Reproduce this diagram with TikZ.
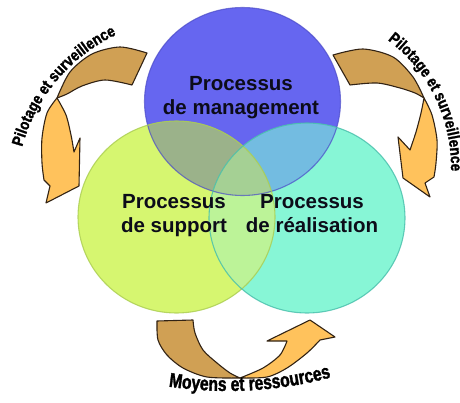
\documentclass[tikz,border=0pt]{standalone}
\usepackage{fontspec}
\setmainfont{Liberation Sans}
\newfontfamily\procfam{Liberation Sans}
\newfontfamily\pilotfam{Liberation Sans Bold}[FakeStretch=0.85, FakeBold=1.6]
\newfontfamily\moyfam{Liberation Sans Bold}[FakeStretch=0.78, FakeBold=1.6]
\usetikzlibrary{decorations.text}
\definecolor{cblue}{RGB}{102,102,240}
\definecolor{cgreen}{RGB}{214,246,112}
\definecolor{ccyan}{RGB}{135,246,214}
\definecolor{cbg}{RGB}{155,178,138}
\definecolor{cbc}{RGB}{115,188,225}
\definecolor{cgc}{RGB}{188,243,152}
\definecolor{call}{RGB}{165,208,148}
\definecolor{eblue}{RGB}{75,75,200}
\definecolor{egreen}{RGB}{170,205,80}
\definecolor{ecyan}{RGB}{70,190,170}
\definecolor{arrtan}{RGB}{208,160,84}
\definecolor{arror}{RGB}{255,194,92}
\definecolor{arredge}{RGB}{50,35,20}
\definecolor{txtcol}{RGB}{12,12,25}
\tikzset{
  tanpart/.style={fill=arrtan, draw=arredge, line width=1.1pt, line join=round},
  orpart/.style={fill=arror, draw=arredge, line width=1.1pt, line join=round},
  proc/.style={font=\procfam\bfseries\fontsize{20.5}{24}\selectfont, text=txtcol, inner sep=0pt, anchor=base},
  circedge/.style={line width=1.1pt}
}
\begin{document}
\begin{tikzpicture}[x=1pt,y=1pt]
\useasboundingbox (0,0) rectangle (460,-403);
\clip (0,0) rectangle (460,-403);
% circle centres
\coordinate (cm) at (242.5,-101.5);
\coordinate (cs) at (176.5,-217);
\coordinate (cr) at (307,-218);
\def\Cm{(cm) ellipse [x radius=98, y radius=94]}
\def\Cs{(cs) ellipse [x radius=98.5, y radius=96]}
\def\Cr{(cr) ellipse [x radius=98, y radius=95]}
\fill[cblue] \Cm;
\fill[cgreen] \Cs;
\fill[ccyan] \Cr;
\begin{scope}\clip \Cm; \fill[cbg] \Cs; \end{scope}
\begin{scope}\clip \Cm; \fill[cbc] \Cr; \end{scope}
\begin{scope}\clip \Cs; \fill[cgc] \Cr; \end{scope}
\begin{scope}\clip \Cm; \clip \Cs; \fill[call] \Cr; \end{scope}
\draw[circedge, draw=eblue, draw opacity=0.7] \Cm;
\draw[circedge, draw=egreen, draw opacity=0.8] \Cs;
\draw[circedge, draw=ecyan, draw opacity=0.8] \Cr;
% texts
\node[proc] (tm1) at (241,-91) {Processus};
\node[proc] (tm2) at (241,-115) {de management};
\node[proc] (ts1) at (174,-209) {Processus};
\node[proc] (ts2) at (174,-233) {de support};
\node[proc] (tr1) at (312,-209) {Processus};
\node[proc] (tr2) at (312,-233) {de réalisation};
% left arrow
\filldraw[tanpart] plot[smooth] coordinates {(147,-53) (120,-47) (92,-54) (70,-72) (57,-98)}
  -- plot[smooth] coordinates {(57,-98) (67,-94) (82,-86) (105,-80) (132,-85)} -- cycle;
\filldraw[orpart] plot[smooth] coordinates {(57,-98) (47,-113) (42,-138) (42,-163) (44,-180)}
  -- (50,-186) -- (46,-203) -- (79,-186) -- (80,-138) -- (74,-152)
  -- plot[smooth] coordinates {(74,-152) (71,-135) (66,-115) (57,-98)} -- cycle;
% right arrow
\filldraw[tanpart] plot[smooth] coordinates {(333,-55) (363,-49) (393,-57) (413,-77) (424,-98)}
  -- plot[smooth] coordinates {(424,-98) (415,-93) (400,-88) (377,-83) (350,-85)} -- cycle;
\filldraw[orpart] plot[smooth] coordinates {(424,-98) (432,-115) (437,-140) (436,-163) (434,-177)}
  -- (425,-183) -- (430,-197) -- (403,-178) -- (398,-137) -- (410,-150)
  -- plot[smooth] coordinates {(410,-150) (416,-132) (421,-113) (424,-98)} -- cycle;
% bottom arrow
\filldraw[tanpart] plot[smooth] coordinates {(157,-321) (158,-340) (167,-355) (183,-368) (207,-377) (240,-378)}
  -- plot[smooth] coordinates {(240,-378) (230,-373) (217,-363) (203,-350) (195,-333) (193,-320)} -- cycle;
\filldraw[orpart] plot[smooth] coordinates {(240,-378) (267,-377) (287,-368) (307,-353) (320,-340)}
  -- (335,-337) -- (310,-320) -- (267,-341) -- (287,-341)
  -- plot[smooth] coordinates {(287,-341) (280,-355) (263,-368) (240,-378)} -- cycle;
% curved labels
\path[decorate, decoration={text along path, text align=center,
   text={|\pilotfam\fontsize{16}{16}\selectfont|Pilotage et surveillence}}]
   ([shift={(166:175)}]191,-193) arc[start angle=166, end angle=114, radius=175];
\path[decorate, decoration={text along path, text align=left,
   text={|\pilotfam\fontsize{16}{16}\selectfont|Pilotage et surveillence}}]
   ([shift={(53:159)}]292,-167) arc[start angle=53, end angle=-25, radius=159];
\path[decorate, decoration={text along path, text align=center,
   text={|\moyfam\fontsize{20}{20}\selectfont|Moyens et ressources}}]
   ([shift={(255:400)}]228,9) arc[start angle=255, end angle=291.4, radius=400];
\end{tikzpicture}
\end{document}
